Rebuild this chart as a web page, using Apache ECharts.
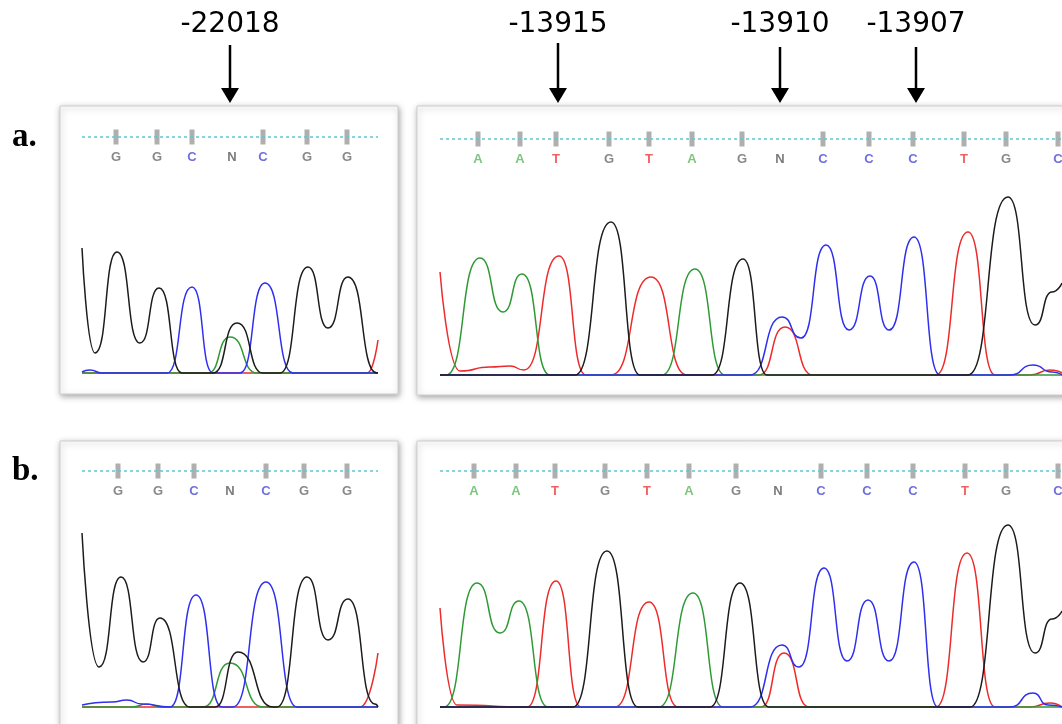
<!DOCTYPE html>
<html>
<head>
<meta charset="utf-8">
<title>chromatogram</title>
<script src="https://cdn.jsdelivr.net/npm/echarts@6/dist/echarts.min.js"></script>
<style>
html,body{margin:0;padding:0;background:#fff;}
#main{width:1062px;height:724px;}
</style>
</head>
<body>
<div id="main"></div>
<script type="text/javascript">
// traces: [scan position, signal], per channel
var aLeftG = [[0,125],[13,20],[35,121],[58,30],[77,85],[100,0],[131,0],[155,50],[181,0],[198,0],[226,106],[246,45],[266,96],[295,0],[296,0]];
var aLeftC = [[0,1],[8,3],[20,0],[85,0],[110,86],[131,0],[158,0],[183,90],[211,0],[296,0]];
var aLeftA = [[0,0],[126,0],[148,36],[175,0],[296,0]];
var aLeftT = [[0,0],[285,0],[296,33]];

var aRightG = [[0,0],[135,0],[171,153],[200,0],[272,0],[303,116],[327,0],[528,0],[568,178],[595,50],[612,83],[622,92]];
var aRightC = [[0,0],[310,0],[342,58],[361,37],[386,130],[409,45],[430,99],[449,45],[474,138],[500,0],[570,0],[593,10],[612,3],[622,0]];
var aRightA = [[0,0],[6,0],[40,117],[63,63],[82,101],[110,0],[222,0],[255,106],[285,0],[622,0]];
var aRightT = [[0,103],[20,4],[50,8],[70,9],[84,5],[119,119],[146,0],[171,0],[211,98],[247,0],[319,0],[345,48],[373,0],[496,0],[528,143],[555,0],[590,0],[610,5],[622,2]];

var bLeftG = [[0,174],[17,40],[39,130],[61,45],[78,89],[108,0],[133,0],[156,55],[191,0],[195,0],[225,130],[246,67],[266,108],[293,3],[296,0]];
var bLeftC = [[0,2],[30,5],[45,7],[60,3],[88,0],[114,112],[140,0],[151,0],[184,125],[215,0],[296,0]];
var bLeftA = [[0,0],[50,0],[65,3],[80,0],[121,0],[148,44],[181,0],[296,0]];
var bLeftT = [[0,0],[278,0],[296,54]];

var bRightG = [[0,0],[133,0],[167,156],[198,0],[270,0],[300,124],[329,0],[530,0],[568,182],[595,54],[612,88],[622,96]];
var bRightC = [[0,0],[310,0],[342,62],[359,40],[384,139],[407,46],[428,107],[449,46],[474,145],[498,0],[570,0],[593,14],[608,2],[622,0]];
var bRightA = [[0,0],[4,0],[37,124],[60,74],[79,106],[108,0],[219,0],[253,114],[283,0],[622,0]];
var bRightT = [[0,99],[17,2],[87,0],[116,126],[141,0],[175,0],[209,105],[238,0],[321,0],[344,54],[369,0],[496,0],[527,154],[555,0],[590,0],[610,4],[622,0]];

// base calls and their scan positions
var leftCalls = ['G','G','C','N','C','G','G'];
var aLeftCallPos = [34,75,110,150,181,225,265];
var bLeftCallPos = [36,76,112,148,184,222,265];
var rightCalls = ['A','A','T','G','T','A','G','N','C','C','C','T','G','C'];
var aRightCallPos = [38,80,116,169,209,252,302,340,383,429,473,524,566,618];
var bRightCallPos = [34,76,115,165,207,249,296,338,381,427,473,525,566,618];

var callRow = 236;   // level of the dotted base-call line
var positionLabels = ['-22018','-13915','-13910','-13907'];

var chColor = {G:'#1c1c1c', C:'#2f2ff0', A:'#2f9a35', T:'#ee2a2a'};
var callColor = {G:'#6a6a6a', C:'#4a4ad8', A:'#5cb85c', T:'#ee3a3a', N:'#5a5a5a'};

var panels = [
	{grid:{left:82, top:123, width:296, height:255}, max:296, tr:{T:aLeftT, A:aLeftA, C:aLeftC, G:aLeftG}, calls:leftCalls, pos:aLeftCallPos},
	{grid:{left:440, top:125, width:622, height:255}, max:622, tr:{T:aRightT, A:aRightA, C:aRightC, G:aRightG}, calls:rightCalls, pos:aRightCallPos},
	{grid:{left:82, top:457, width:296, height:255}, max:296, tr:{T:bLeftT, A:bLeftA, C:bLeftC, G:bLeftG}, calls:leftCalls, pos:bLeftCallPos},
	{grid:{left:440, top:457, width:622, height:255}, max:622, tr:{T:bRightT, A:bRightA, C:bRightC, G:bRightG}, calls:rightCalls, pos:bRightCallPos}
];

function richFor(c){
	return {color:c, fontSize:13, fontWeight:'bold', fontFamily:'Liberation Sans'};
}

var grids = [], xAxes = [], yAxes = [], series = [];
panels.forEach(function(p, i){
	grids.push(p.grid);
	xAxes.push({type:'value', gridIndex:i, min:0, max:p.max, show:false});
	yAxes.push({type:'value', gridIndex:i, min:-5, max:250, show:false});
	// dotted base-call line
	series.push({
		type:'line', xAxisIndex:i, yAxisIndex:i, silent:true, showSymbol:false,
		data:[[0,callRow],[p.max,callRow]],
		lineStyle:{color:'#62c6cf', width:1.5, type:[3,3]}
	});
	['T','A','C','G'].forEach(function(ch){
		series.push({
			type:'line', xAxisIndex:i, yAxisIndex:i, silent:true, showSymbol:false,
			smooth:0.6, smoothMonotone:'x',
			data:p.tr[ch],
			lineStyle:{color:chColor[ch], width:1.5}
		});
	});
	var calls = p.calls;
	series.push({
		type:'scatter', xAxisIndex:i, yAxisIndex:i, silent:true,
		data:p.pos.map(function(x){ return [x, callRow]; }),
		symbol:'rect',
		symbolSize:[5,15],
		itemStyle:{color:function(prm){ return calls[prm.dataIndex] === 'N' ? 'rgba(0,0,0,0)' : '#9b9b9b'; }},
		label:{
			show:true, position:'bottom', distance:6,
			formatter:function(prm){ var b = calls[prm.dataIndex]; return '{' + b + '|' + b + '}'; },
			rich:{G:richFor(callColor.G), C:richFor(callColor.C), A:richFor(callColor.A), T:richFor(callColor.T), N:richFor(callColor.N)}
		}
	});
});

// frames, panel letters, position labels and arrows
var boxStyle = {fill:'#fff', stroke:'#cfcfcf', lineWidth:1, shadowBlur:6, shadowColor:'rgba(0,0,0,0.35)', shadowOffsetX:1, shadowOffsetY:2};
var graphic = [
	{type:'rect', z:0, shape:{x:60, y:106, width:338, height:288}, style:boxStyle},
	{type:'rect', z:0, shape:{x:417, y:106, width:700, height:289}, style:boxStyle},
	{type:'rect', z:0, shape:{x:60, y:441, width:338, height:330}, style:boxStyle},
	{type:'rect', z:0, shape:{x:417, y:441, width:700, height:330}, style:boxStyle},
	{type:'text', z:1, left:12, top:121, style:{text:'a.', font:'bold 33px "Liberation Serif"', fill:'#000'}},
	{type:'text', z:1, left:12, top:455, style:{text:'b.', font:'bold 33px "Liberation Serif"', fill:'#000'}}
];
var arrowX = [230, 558, 780, 916];
var arrowTop = [45, 43, 47, 47];
positionLabels.forEach(function(t, k){
	graphic.push({type:'text', z:1, x:arrowX[k], y:25, style:{text:t, font:'28px "DejaVu Sans"', fill:'#000', textAlign:'center', textVerticalAlign:'middle'}});
	graphic.push({type:'line', z:1, shape:{x1:arrowX[k], y1:arrowTop[k], x2:arrowX[k], y2:90}, style:{stroke:'#000', lineWidth:2.5}});
	graphic.push({type:'polygon', z:1, shape:{points:[[arrowX[k]-9,88],[arrowX[k]+9,88],[arrowX[k],103]]}, style:{fill:'#000'}});
});

var myChart = echarts.init(document.getElementById('main'));
var option = {
	backgroundColor:'#fff',
	animation:false,
	grid:grids,
	xAxis:xAxes,
	yAxis:yAxes,
	graphic:graphic,
	series:series
};
myChart.setOption(option);
</script>
</body>
</html>
